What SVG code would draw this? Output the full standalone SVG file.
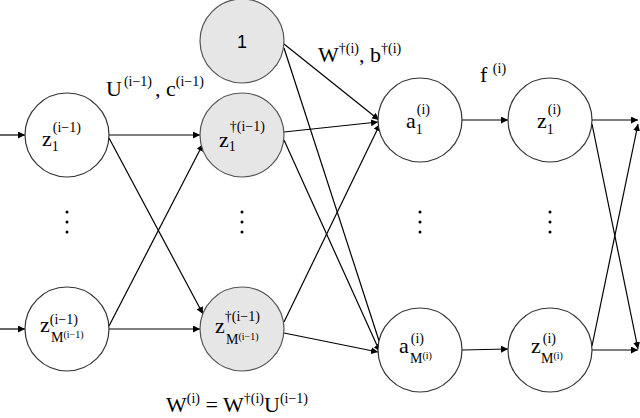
<svg xmlns="http://www.w3.org/2000/svg" width="640" height="418" viewBox="0 0 640 418">
<style>
.n{fill:#fff;stroke:#333;stroke-width:1.2}
.g{fill:#e6e6e6;stroke:#555;stroke-width:1.2}
text{font-family:"Liberation Serif","DejaVu Serif",serif;fill:#000}
.t{font-size:22px}
.s{font-size:14px}
.x{font-size:10px}
.c line{stroke:#000;stroke-width:1.2;marker-end:url(#ar)}
.d{fill:#000}
</style>
<defs><marker id="ar" viewBox="0 0 10 10" refX="10" refY="5" markerWidth="7" markerHeight="7" orient="auto" markerUnits="userSpaceOnUse"><path d="M0,0L10,5L0,10z" fill="#000"/></marker></defs>
<g class="c">
<line x1="0" y1="135" x2="25" y2="135"/>
<line x1="0" y1="329" x2="25" y2="329"/>
<line x1="109" y1="135" x2="200" y2="135"/>
<line x1="109" y1="138" x2="203" y2="314"/>
<line x1="109" y1="326" x2="203" y2="144"/>
<line x1="109" y1="329" x2="200" y2="329"/>
<line x1="284" y1="44" x2="379" y2="120"/>
<line x1="284" y1="48" x2="382" y2="350"/>
<line x1="284" y1="132" x2="378" y2="122"/>
<line x1="284" y1="140" x2="380" y2="352"/>
<line x1="284" y1="322" x2="380" y2="124"/>
<line x1="284" y1="333" x2="378" y2="352"/>
<line x1="462" y1="120" x2="508" y2="120"/>
<line x1="462" y1="350" x2="508" y2="349"/>
<line x1="592" y1="120" x2="638" y2="120"/>
<line x1="592" y1="124" x2="638" y2="349"/>
<line x1="592" y1="346" x2="638" y2="124"/>
<line x1="592" y1="350" x2="638" y2="350"/>
</g>
<g id="z1"><circle class="n" cx="67" cy="135" r="42"/><text class="t" x="42" y="146">z<tspan class="s" dy="5">1</tspan><tspan class="s" dy="-19" dx="-6">(i−1)</tspan></text></g>
<g id="zM"><circle class="n" cx="67" cy="329" r="42"/><text class="t" x="40" y="332">z<tspan class="s" dy="-8">(i−1)</tspan></text><text x="51" y="342" class="s">M<tspan class="x" dy="-4">(i−1)</tspan></text></g>
<g id="one"><circle class="g" cx="242" cy="41" r="42"/><text x="242" y="48" text-anchor="middle" style="font-family:'Liberation Sans',sans-serif;font-size:18px">1</text></g>
<g id="zd1"><circle class="g" cx="242" cy="135" r="42"/><text class="t" x="219" y="147">z<tspan class="s" dy="4">1</tspan><tspan class="s" dy="-20" dx="-6">†(i−1)</tspan></text></g>
<g id="zdM"><circle class="g" cx="242" cy="329" r="42"/><text class="t" x="215" y="333">z<tspan class="s" dy="-12">†(i−1)</tspan></text><text x="226" y="344" class="s">M<tspan class="x" dy="-4">(i−1)</tspan></text></g>
<g id="a1"><circle class="n" cx="420" cy="120" r="42"/><text class="t" x="406" y="128">a<tspan class="s" dy="6">1</tspan><tspan class="s" dy="-20" dx="-6">(i)</tspan></text></g>
<g id="aM"><circle class="n" cx="420" cy="350" r="42"/><text class="t" x="399" y="353">a<tspan class="s" dy="-10" dx="2">(i)</tspan></text><text x="410" y="363" class="s">M<tspan class="x" dy="-4">(i)</tspan></text></g>
<g id="zo1"><circle class="n" cx="550" cy="120" r="42"/><text class="t" x="537" y="128">z<tspan class="s" dy="6">1</tspan><tspan class="s" dy="-20" dx="-6">(i)</tspan></text></g>
<g id="zoM"><circle class="n" cx="550" cy="350" r="42"/><text class="t" x="531" y="353">z<tspan class="s" dy="-10" dx="2">(i)</tspan></text><text x="541" y="363" class="s">M<tspan class="x" dy="-4">(i)</tspan></text></g>
<g id="dots">
<circle class="d" cx="67" cy="212" r="1.5"/><circle class="d" cx="67" cy="222" r="1.5"/><circle class="d" cx="67" cy="232" r="1.5"/>
<circle class="d" cx="242" cy="212" r="1.5"/><circle class="d" cx="242" cy="222" r="1.5"/><circle class="d" cx="242" cy="232" r="1.5"/>
<circle class="d" cx="420" cy="212" r="1.5"/><circle class="d" cx="420" cy="222" r="1.5"/><circle class="d" cx="420" cy="232" r="1.5"/>
<circle class="d" cx="550" cy="212" r="1.5"/><circle class="d" cx="550" cy="222" r="1.5"/><circle class="d" cx="550" cy="232" r="1.5"/>
</g>
<g id="labels">
<text class="t" x="106" y="96">U<tspan class="s" dy="-10" dx="2">(i−1)</tspan><tspan dy="10" dx="3">, c</tspan><tspan class="s" dy="-10">(i−1)</tspan></text>
<text class="t" x="318" y="62">W<tspan class="s" dy="-9">†(i)</tspan><tspan dy="9">, b</tspan><tspan class="s" dy="-9">†(i)</tspan></text>
<text class="t" x="480" y="82">f <tspan class="s" dy="-9">(i)</tspan></text>
<text class="t" x="166" y="412">W<tspan class="s" dy="-9">(i)</tspan><tspan dy="9"> = W</tspan><tspan class="s" dy="-9">†(i)</tspan><tspan dy="9">U</tspan><tspan class="s" dy="-9">(i−1)</tspan></text>
</g>
</svg>
